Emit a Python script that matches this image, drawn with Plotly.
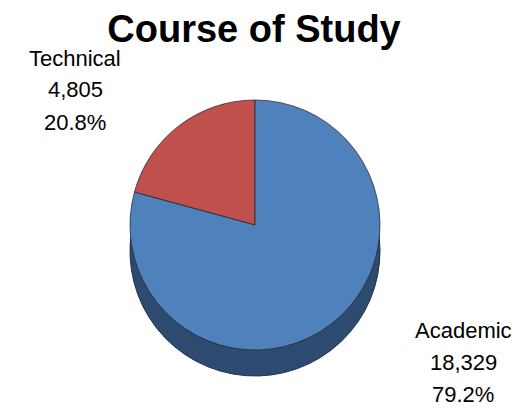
import plotly.graph_objects as go

categories = ["Technical", "Academic"]
counts = [4805, 18329]
top_colors = ["#C0504D", "#4F81BD"]
side_color = "#2D4A71"

_FONT = "Liberation Sans"
_W, _H = 528, 408


def _px_x(px: float) -> float:
    return px / _W


def _px_y(py: float) -> float:
    return 1 - py / _H


# pie box in pixels, a darker copy sits a little lower to fake the 3d edge
_PIE_LEFT, _PIE_RIGHT = 122, 372
_PIE_TOP, _PIE_BOTTOM = 92, 342
_DEPTH = 26

total = sum(counts)
# technical slice ends at 12 o'clock, opening toward the left
start_angle = -360 * counts[0] / total

fig = go.Figure()
fig.add_trace(
    go.Pie(
        labels=categories,
        values=counts,
        sort=False,
        direction="clockwise",
        rotation=start_angle,
        marker=dict(colors=[side_color, side_color], line=dict(color="#1E2F48", width=1)),
        textinfo="none",
        hoverinfo="skip",
        showlegend=False,
        domain=dict(
            x=[_px_x(_PIE_LEFT), _px_x(_PIE_RIGHT)],
            y=[_px_y(_PIE_BOTTOM + _DEPTH), _px_y(_PIE_TOP + _DEPTH)],
        ),
    )
)
fig.add_trace(
    go.Pie(
        labels=categories,
        values=counts,
        sort=False,
        direction="clockwise",
        rotation=start_angle,
        marker=dict(colors=top_colors, line=dict(color="rgba(40,40,40,0.75)", width=1)),
        textinfo="none",
        showlegend=False,
        domain=dict(
            x=[_px_x(_PIE_LEFT), _px_x(_PIE_RIGHT)],
            y=[_px_y(_PIE_BOTTOM), _px_y(_PIE_TOP)],
        ),
    )
)

# label anchor (center x, first line y) in pixels
label_pos = {"Technical": (67, 50), "Academic": (455, 322)}
_LINE_STEP = 32
for name, value in zip(categories, counts):
    cx, cy = label_pos[name]
    for i, line in enumerate([name, f"{value:,}", f"{value / total:.1%}"]):
        fig.add_annotation(
            x=_px_x(cx),
            y=_px_y(cy + i * _LINE_STEP),
            xref="paper",
            yref="paper",
            text=line,
            showarrow=False,
            xanchor="center",
            yanchor="middle",
            font=dict(family=_FONT, size=22, color="#000000"),
        )

fig.update_layout(
    width=_W,
    height=_H,
    margin=dict(l=0, r=0, t=0, b=0),
    paper_bgcolor="white",
    plot_bgcolor="white",
    title=dict(
        text="<b>Course of Study</b>",
        x=_px_x(246),
        y=_px_y(21),
        xanchor="center",
        yanchor="middle",
        font=dict(family=_FONT, size=38, color="#000000"),
    ),
)

fig.write_html("out.html")
